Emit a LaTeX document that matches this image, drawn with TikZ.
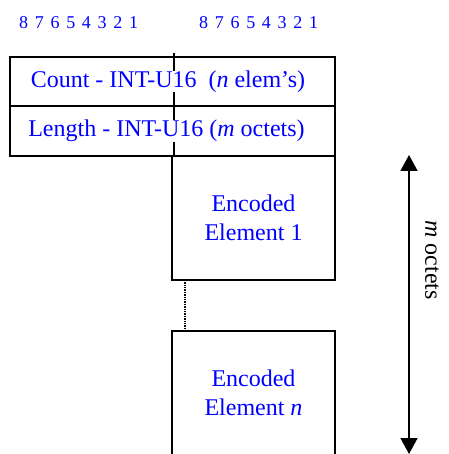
\documentclass[tikz,border=0pt]{standalone}
\usepackage{fontspec}
\setmainfont{Liberation Serif}
\usetikzlibrary{positioning,arrows.meta}

\begin{document}
\begin{tikzpicture}[x=1pt, y=-1pt,
      field/.style={draw, line width=1.6pt, outer sep=0pt, inner sep=0pt,
                    minimum width=325pt, minimum height=49.5pt,
                    font=\fontsize{24}{29}\selectfont, text=blue},   % one header row
      elem/.style={draw, line width=1.6pt, outer sep=0pt, align=center,
                   minimum width=163pt, minimum height=124pt,
                   font=\fontsize{24}{29}\selectfont, text=blue},    % one element block
      bits/.style={font=\fontsize{18}{20}\selectfont, text=blue, inner sep=0pt},
      span/.style={{Triangle[width=17pt,length=16pt]}-{Triangle[width=17pt,length=16pt]},
                   line width=1.6pt}]                                 % size arrow
    \useasboundingbox (0,0) rectangle (448,454);
    \coordinate (tick) at (174,53);
    \coordinate (tickB) at (174,157);
    \draw[line width=1.2pt] (tick) -- (tickB);                       % octet divider, under the texts
    \node[bits, anchor=base west] (bitsL) at (19,29) {\spaceskip=6.7pt 8 7 6 5 4 3 2 1};
    \node[bits, anchor=base west] (bitsR) at (199,29) {\spaceskip=6.7pt 8 7 6 5 4 3 2 1};
    \node[field] (count) at (172.5,81.5) {\fboxsep=0pt\colorbox{white}{Count - INT-U16\ \ (\textit{n} elem's)}\hspace*{9pt}};
    \node[field, below=0pt of count] (length) {\fboxsep=0pt\colorbox{white}{Length - INT-U16 (\textit{m} octets)}\hspace*{12pt}};
    \node[elem, anchor=north east] (elemA) at (length.south east) {Encoded\\Element 1};
    \node[elem, below=51pt of elemA] (elemN) {Encoded\\Element \textit{n}};
    \draw[line width=1.4pt, densely dotted] ([xshift=13pt]elemA.south west) -- ([xshift=13pt]elemN.north west);
    \coordinate (spanT) at (409,155);
    \coordinate (spanB) at (409,454);
    \draw[span] (spanT) -- (spanB);
    \node[rotate=-90, font=\fontsize{24}{29}\selectfont] (octets) at (432,260) {\textit{m} octets};
  \end{tikzpicture}
\end{document}
